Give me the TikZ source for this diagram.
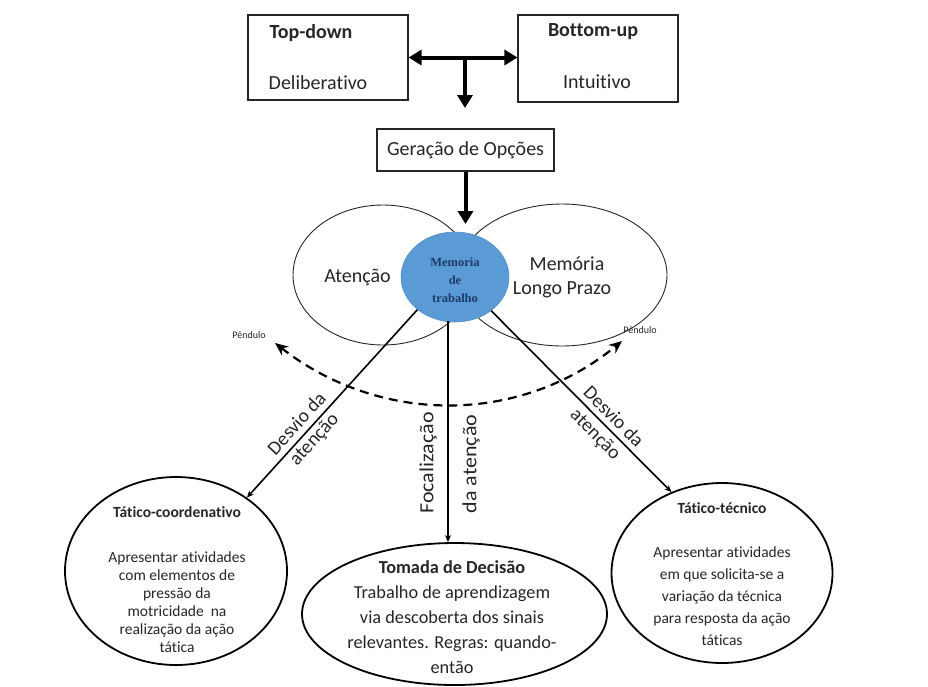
\documentclass[tikz,border=0pt]{standalone}
\usepackage{fontspec}
\setmainfont{Carlito}[Ligatures=NoCommon]
\newfontfamily\mtserif{Liberation Serif}
\usetikzlibrary{arrows.meta,shapes.geometric}
\definecolor{txt}{HTML}{262626}
\definecolor{mtblue}{HTML}{5B9BD5}
\definecolor{navy}{HTML}{1F3A68}
\newcommand{\fs}[2]{\fontsize{#1}{#2}\selectfont}
\begin{document}
\begin{tikzpicture}[x={(1pt,0)}, y={(0,-1pt)},
  every node/.style={text=txt},
  boxnode/.style={draw=black!85, line width=1.1pt, rectangle, inner sep=0},
  bigarrow/.style={line width=4pt, -{Triangle[length=13pt,width=15pt]}},
  bigdouble/.style={line width=4pt, {Triangle[length=13pt,width=15pt]}-{Triangle[length=13pt,width=15pt]}},
  topell/.style={ellipse, draw=black!85, line width=0.9pt, inner sep=0},
  botell/.style={ellipse, draw=black, line width=1.8pt, inner sep=0},
  conn/.style={line width=1.6pt, -{Stealth[length=7pt,width=6pt]}},
  pend/.style={line width=2.2pt, dash pattern=on 9pt off 6pt, {Stealth[length=13pt,width=11pt]}-{Stealth[length=13pt,width=11pt]}},
  big/.style={font=\fs{20}{24}},
  bigb/.style={font=\bfseries\fs{20}{24}}
]
\useasboundingbox (0,0) rectangle (928,686);

% top boxes
\node[boxnode, minimum width=160pt, minimum height=85pt] (tdbox) at (328,57.5) {};
\node[boxnode, minimum width=160pt, minimum height=87pt] (bubox) at (598,58.5) {};
\node[bigb] (tdt) at (311,33) {Top-down};
\node[big] (tdd) at (318,83) {Deliberativo};
\node[bigb] (but) at (593,32) {Bottom-up};
\node[big] (bui) at (597,82) {Intuitivo};

\draw[bigdouble] (tdbox.east) -- (tdbox.east -| bubox.west);
\coordinate (tj) at (465,57.5);
\coordinate (te) at (465,108);
\draw[bigarrow] (tj) -- (te);

% geracao
\node[boxnode, minimum width=177pt, minimum height=42pt, big] (go) at (465.5,150) {Geração de Opções};
\coordinate (ge) at (465.5,224);
\draw[bigarrow] (go.south) -- (ge);

% top ellipses and circle
\node[topell, minimum width=180pt, minimum height=140pt] (at) at (383,275) {};
\node[topell, minimum width=210pt, minimum height=142pt] (mlp) at (562,275) {};
\node[ellipse, fill=mtblue, draw=mtblue!92!black, line width=0.6pt, minimum width=108pt, minimum height=90pt, inner sep=0] (mt) at (455,277) {};
\node[font=\mtserif\bfseries\fs{12.5}{18}, text=navy, align=center] (mtt) at (455,280) {Memoria\\de\\trabalho};
\node[big] (att) at (357.5,277) {Atenção};
\node[big] (mem) at (567,264) {Memória};
\node[big] (lp) at (562,290) {Longo Prazo};

% bottom ellipses
\node[botell, minimum width=222pt, minimum height=188pt] (tc) at (176,571) {};
\node[botell, minimum width=305pt, minimum height=142pt] (tom) at (454.5,614) {};
\node[botell, minimum width=221pt, minimum height=180pt] (tt) at (722,573) {};

\node[font=\fs{15.5}{18}, align=center] (tctx) at (177,580)
  {\textbf{Tático-coordenativo}\\[27pt]Apresentar atividades\\com elementos de\\pressão da\\motricidade~ na\\realização da ação\\tática};
\node[font=\fs{18.3}{25}, align=center] (tomtx) at (452,617.5)
  {\textbf{Tomada de Decisão}\\Trabalho de aprendizagem\\via descoberta dos sinais\\relevantes. Regras: quando-\\então};
\node[font=\fs{15.5}{22}, align=center] (tttx) at (722,574)
  {\textbf{Tático-técnico}\\[22pt]Apresentar atividades\\em que solicita-se a\\variação da técnica\\para resposta da ação\\táticas};

% connectors
\draw[conn] (mt.221) -- (tc.46);
\coordinate (cs) at (448,321);
\draw[conn] (cs) -- (cs |- tom.north);
\draw[conn] (mt.317) -- (tt.122);

% pendulum
\coordinate (pl) at (275,343);
\coordinate (pr) at (622,341);
\draw[pend] (pl) .. controls (380,425) and (520,425) .. (pr);
\node[font=\fs{10}{12}] (pnl) at (249,335) {Pêndulo};
\node[font=\fs{10}{12}] (pnr) at (640,330) {Pêndulo};

% line labels
\node[rotate=47.7, align=center, font=\fs{19.5}{23}] (ld) at (306,432) {Desvio da\\atenção};
\node[rotate=-45.3, align=center, font=\fs{19.5}{25}] (rd) at (604,426) {Desvio da\\atenção};
\node[rotate=90, big] (foc) at (428,463) {\scalebox{1.1}[1]{Focalização}};
\node[rotate=90, big] (dat) at (471,464) {\scalebox{1.1}[1]{da atenção}};
\end{tikzpicture}
\end{document}
